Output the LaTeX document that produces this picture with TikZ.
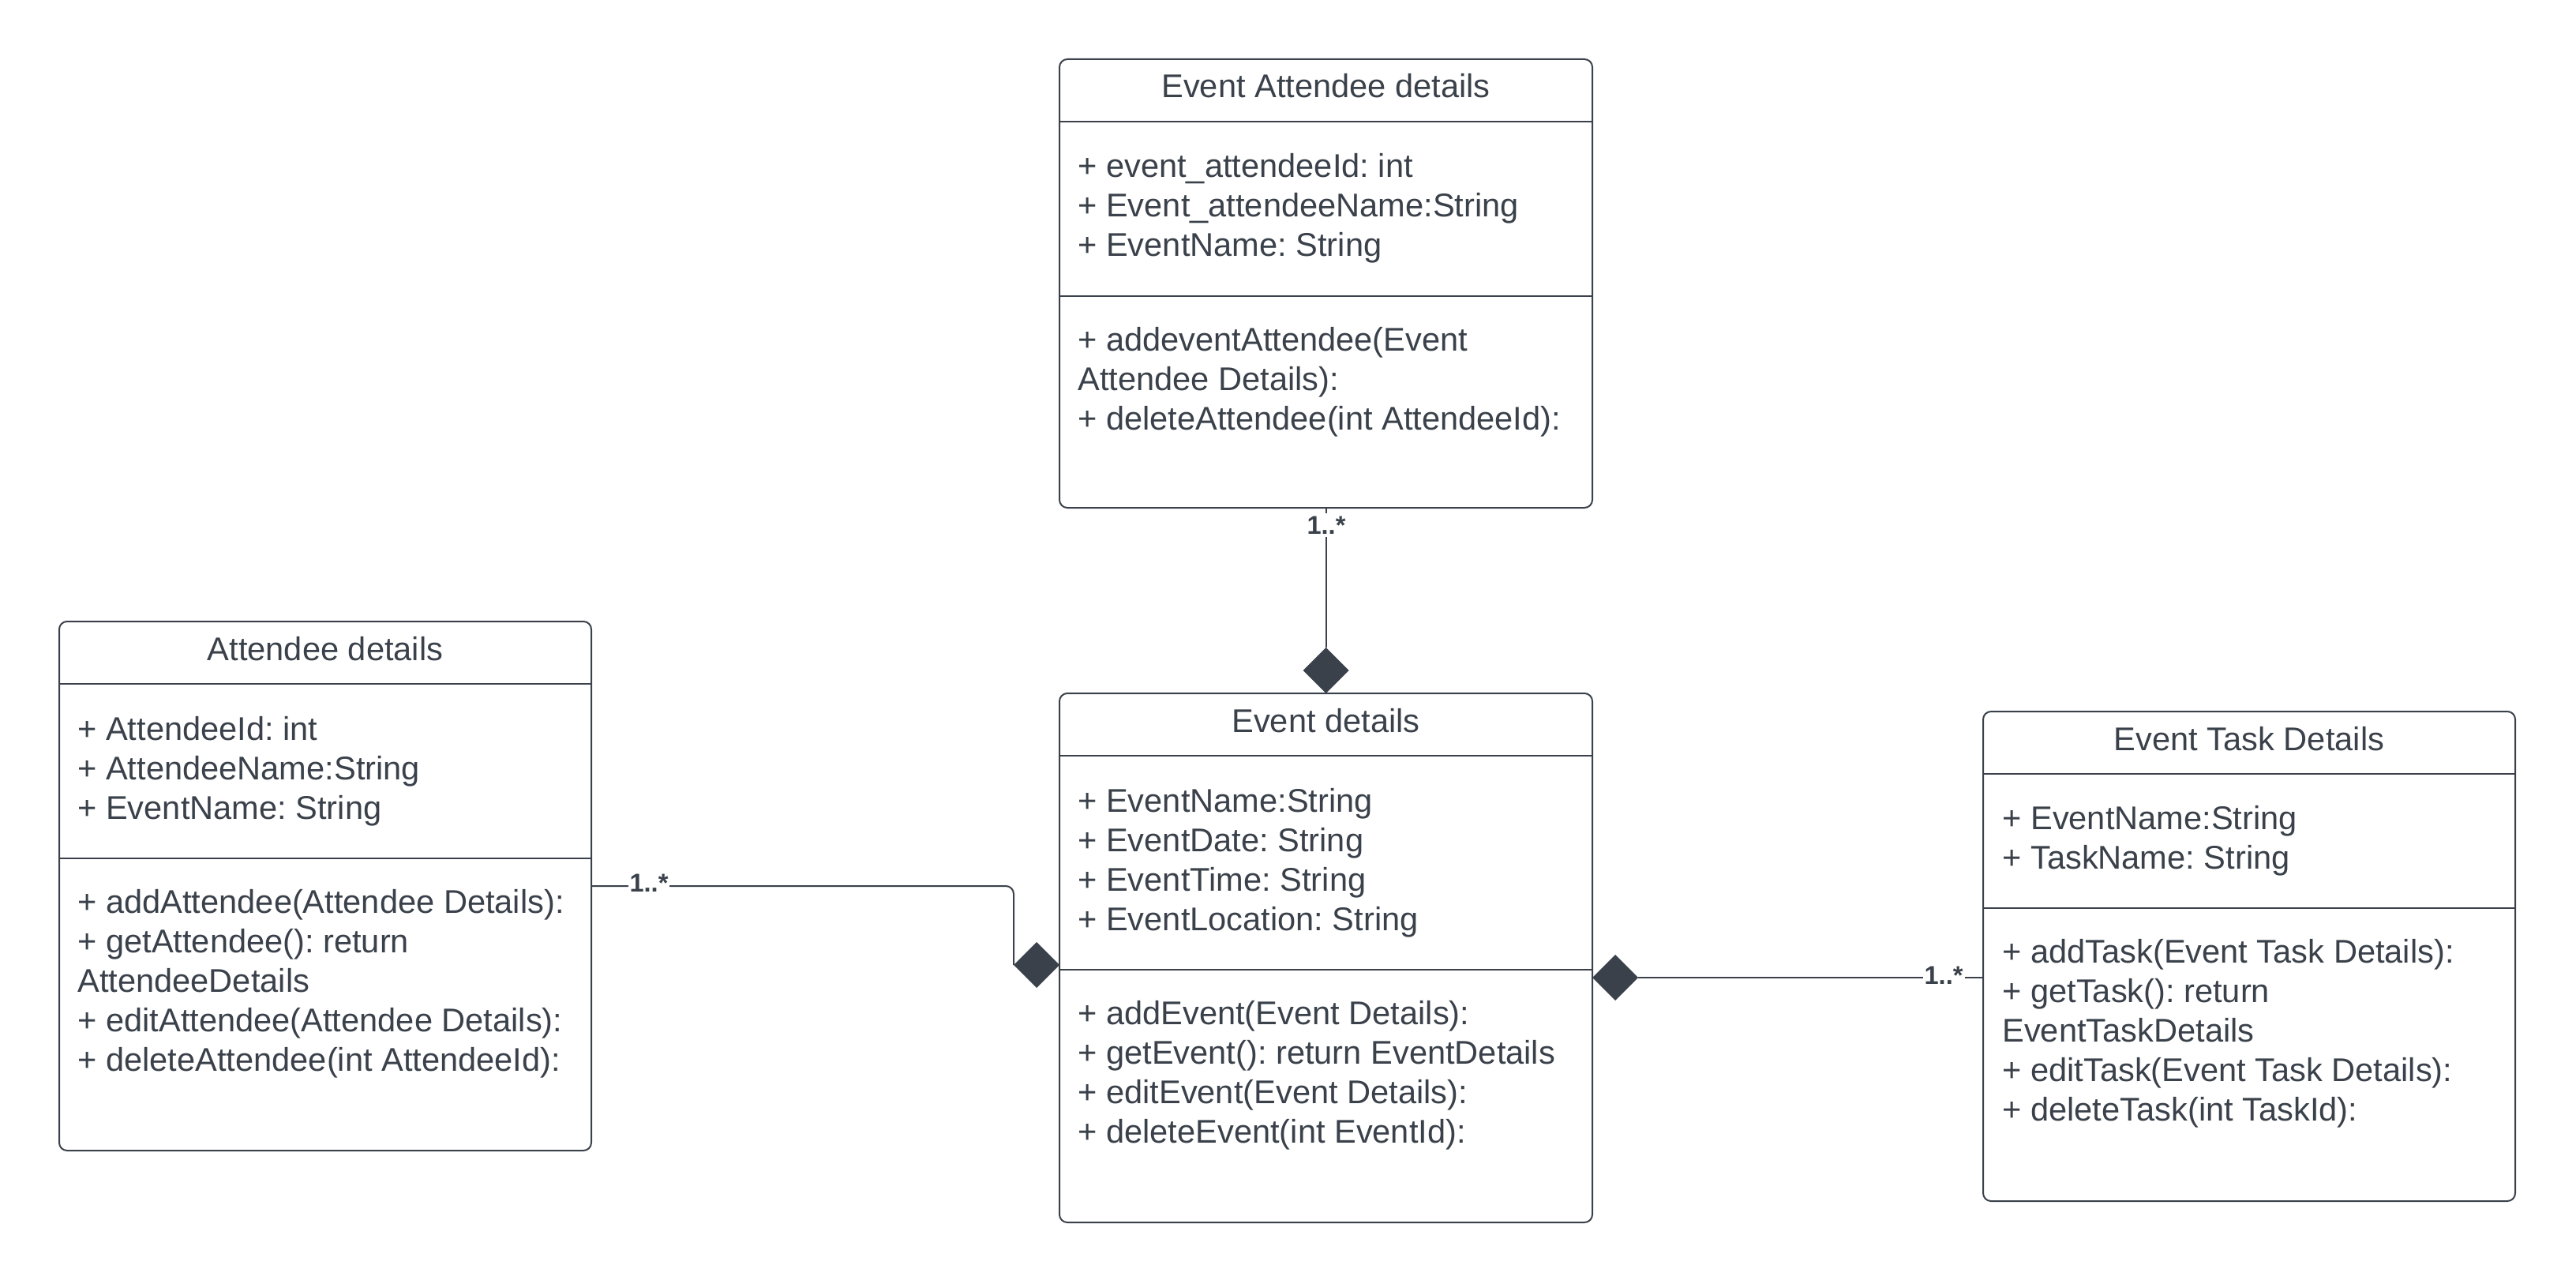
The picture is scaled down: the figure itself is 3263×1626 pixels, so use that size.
\documentclass[tikz,border=0pt]{standalone}
\usepackage{fontspec}
\setmainfont{Liberation Sans}
\usetikzlibrary{shapes.geometric}

\definecolor{ink}{RGB}{58,65,74}
\newcommand\umlmember{\frenchspacing\fontsize{20.8pt}{25pt}\selectfont}
\newcommand\umlmult{\bfseries\fontsize{16.3pt}{19pt}\selectfont}

\tikzset{
  classbox/.style={draw=ink, line width=1pt, rounded corners=5pt, fill=white,
    inner sep=0pt, outer sep=0pt, anchor=north west},
  divider/.style={draw=ink, line width=0.7pt},
  member/.style={anchor=base west, inner sep=0pt, text=ink, font=\umlmember},
  classtitle/.style={anchor=base, inner sep=0pt, text=ink, font=\umlmember},
  conn/.style={draw=ink, line width=1pt},
  comp/.style={diamond, fill=ink, draw=none, inner sep=0pt, outer sep=0pt,
    minimum width=29pt, minimum height=29pt},
  mult/.style={anchor=base, fill=white, inner xsep=1pt, inner ysep=2pt,
    text=ink, font=\umlmult}
}

\begin{document}
\begin{tikzpicture}[x=0.5pt, y=-0.5pt]
\useasboundingbox (0,0) rectangle (3263,1626);

% ---------------- class boxes ----------------
\node[classbox, minimum width=337pt,   minimum height=335pt] (att)  at (75,787)   {};
\node[classbox, minimum width=337.5pt, minimum height=284pt] (eatt) at (1342,75)  {};
\node[classbox, minimum width=337.5pt, minimum height=335pt] (ev)   at (1342,878) {};
\node[classbox, minimum width=337pt,   minimum height=310pt] (task) at (2512,901) {};

% compartment dividers
\draw[divider] (75,866)   -- (749,866);
\draw[divider] (75,1087)  -- (749,1087);
\draw[divider] (1342,154) -- (2017,154);
\draw[divider] (1342,375) -- (2017,375);
\draw[divider] (1342,957) -- (2017,957);
\draw[divider] (1342,1228) -- (2017,1228);
\draw[divider] (2512,980) -- (3186,980);
\draw[divider] (2512,1150) -- (3186,1150);

% ---------------- Attendee details ----------------
\node[classtitle] (att-title) at (412,836) {Attendee details};
\foreach \t [count=\i] in {{+ AttendeeId: int},{+ AttendeeName:String},{+ EventName: String}}
  \node[member] (att-a\i) at (98,{937+50*(\i-1)}) {\t};
\foreach \t [count=\i] in {{+ addAttendee(Attendee Details):},{+ getAttendee(): return},
    {AttendeeDetails},{+ editAttendee(Attendee Details):},{+ deleteAttendee(int AttendeeId):}}
  \node[member] (att-m\i) at (98,{1156+50*(\i-1)}) {\t};

% ---------------- Event Attendee details ----------------
\node[classtitle] (eatt-title) at (1679.5,124) {Event Attendee details};
\foreach \t [count=\i] in {{+ event\_attendeeId: int},{+ Event\_attendeeName:String},{+ EventName: String}}
  \node[member] (eatt-a\i) at (1365,{225+50*(\i-1)}) {\t};
\foreach \t [count=\i] in {{+ addeventAttendee(Event},{Attendee Details):},{+ deleteAttendee(int AttendeeId):}}
  \node[member] (eatt-m\i) at (1365,{444+50*(\i-1)}) {\t};

% ---------------- Event details ----------------
\node[classtitle] (ev-title) at (1679.5,927) {Event details};
\foreach \t [count=\i] in {{+ EventName:String},{+ EventDate: String},{+ EventTime: String},{+ EventLocation: String}}
  \node[member] (ev-a\i) at (1365,{1028+50*(\i-1)}) {\t};
\foreach \t [count=\i] in {{+ addEvent(Event Details):},{+ getEvent(): return EventDetails},
    {+ editEvent(Event Details):},{+ deleteEvent(int EventId):}}
  \node[member] (ev-m\i) at (1365,{1297+50*(\i-1)}) {\t};

% ---------------- Event Task Details ----------------
\node[classtitle] (task-title) at (2849,950) {Event Task Details};
\foreach \t [count=\i] in {{+ EventName:String},{+ TaskName: String}}
  \node[member] (task-a\i) at (2536,{1050+50*(\i-1)}) {\t};
\foreach \t [count=\i] in {{+ addTask(Event Task Details):},{+ getTask(): return},
    {EventTaskDetails},{+ editTask(Event Task Details):},{+ deleteTask(int TaskId):}}
  \node[member] (task-m\i) at (2536,{1219+50*(\i-1)}) {\t};

% ---------------- composition diamonds ----------------
\node[comp, anchor=south] (d-top)   at (ev.north) {};
\node[comp, anchor=east]  (d-left)  at ([yshift=-4.5pt]ev.west) {};
\node[comp, anchor=west]  (d-right) at ([yshift=-12.5pt]ev.east) {};

% ---------------- connectors ----------------
\draw[conn] (eatt.south) -- (d-top.north);
\draw[conn, rounded corners=5pt] (att.east) -| (d-left.west);
\draw[conn] (d-right.east) -- (d-right.east -| task.west);

% multiplicities
\node[mult] (m-top)   at (1680,676)  {1..*};
\node[mult] (m-left)  at (822,1129)  {1..*};
\node[mult] (m-right) at (2462,1246) {1..*};
\end{tikzpicture}
\end{document}
